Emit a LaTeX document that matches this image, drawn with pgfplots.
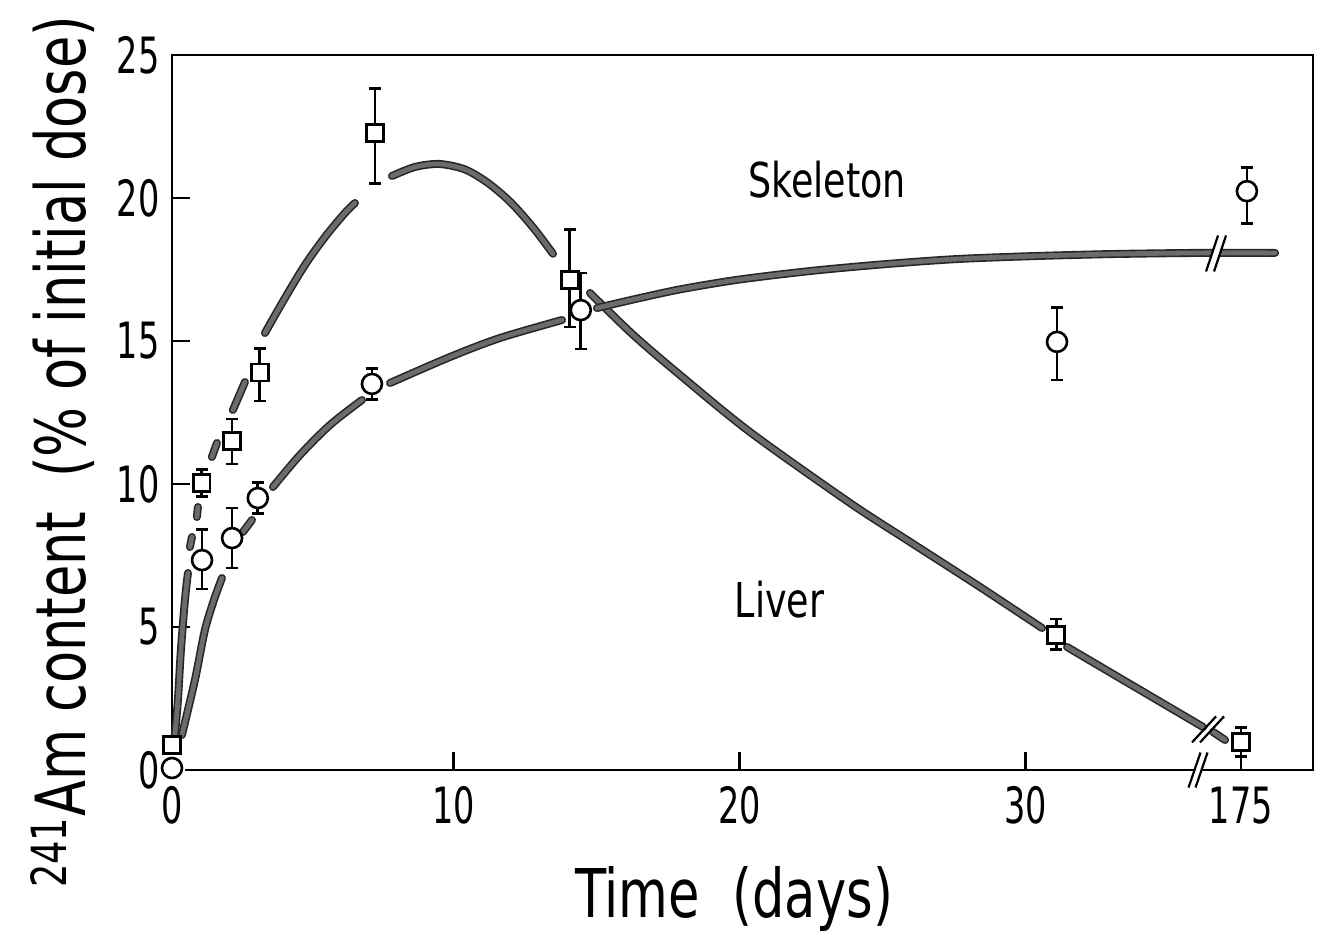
\documentclass[border=0pt]{standalone}
\usepackage{fontspec}
\setmainfont{DejaVu Sans}[FakeStretch=0.76]
\newfontfamily\tickfont{DejaVu Sans}[FakeStretch=0.67]
\usepackage{pgfplots}
\pgfplotsset{compat=1.18}

\pgfplotsset{
  curve/.style={no markers, smooth, draw=black!85, double=black!58,
    double distance=2.4pt, line width=0.8pt, line cap=round},
  bars/.style={error bars/.cd, y dir=both, y explicit,
    error bar style={line width=1.4pt, black},
    error mark options={rotate=90, line width=1.4pt, mark size=3pt, black}},
}

\begin{document}
\begin{tikzpicture}
\begin{axis}[
  at={(0,0)}, anchor=south west,
  scale only axis, width=570.5pt, height=357.5pt,
  xmin=0.16, xmax=40.05, ymin=0, ymax=25,
  axis line style={line width=1.2pt, black},
  tick align=inside, major tick length=9pt,
  tick style={line width=1.1pt, black},
  xtick pos=left, ytick pos=left,
  xtick={0.16,10,20,30,37.53}, xticklabels={0,10,20,30,175},
  ytick={0,5,10,15,20,25}, yticklabels={0\hspace{3.5pt},5,10,15,20,25},
  x tick label style={anchor=base, yshift=-26.5pt, inner sep=0pt},
  y tick label style={anchor=east, xshift=-6pt, inner sep=0pt},
  ticklabel style={font=\tickfont\fontsize{25}{30}\selectfont},
  /pgf/number format/assume math mode=true,
  clip=false,
]

% Liver: fitted curve, drawn in pen strokes
\addplot[curve] coordinates {(0.262,1.224)(0.367,2.448)(0.472,4.196)(0.612,5.944)(0.717,6.888)};
\addplot[curve] coordinates {(0.787,7.797)(0.857,8.147)};
\addplot[curve] coordinates {(1.031,8.846)(1.066,9.196)};
\addplot[curve] coordinates {(1.556,10.944)(1.731,11.434)};
\addplot[curve] coordinates {(2.290,12.587)(2.710,13.566)};
\addplot[curve] coordinates {(3.409,15.280)(4.108,16.503)(4.808,17.657)(5.507,18.636)(6.206,19.476)(6.556,19.825)};
\addplot[curve] coordinates {(7.850,20.769)(8.650,21.084)(9.500,21.190)(10.400,21.000)(11.200,20.530)(12.000,19.850)(12.800,18.950)(13.479,18.050)};
\addplot[curve] coordinates {(14.773,16.678)(16.300,15.200)(17.920,13.811)(20.367,11.818)(23.864,9.336)(26.000,7.950)(28.409,6.399)(30.577,4.965)};
\addplot[curve] coordinates {(31.451,4.301)(36.206,1.503)};
\addplot[curve] coordinates {(36.556,1.329)(36.976,1.049)};

% Skeleton: fitted curve
\addplot[curve] coordinates {(0.507,1.224)(0.962,3.147)(1.311,4.895)(1.626,5.944)(1.906,6.713)};
\addplot[curve] coordinates {(2.640,8.322)(2.955,8.741)};
\addplot[curve] coordinates {(3.689,9.895)(4.633,11.014)(5.682,12.063)(6.801,12.937)};
\addplot[curve] coordinates {(7.780,13.531)(9.878,14.441)(11.626,15.105)(13.794,15.734)};
\addplot[curve] coordinates {(15.017,16.154)(16.500,16.500)(18.000,16.820)(20.000,17.150)(22.500,17.450)(25.000,17.680)(27.500,17.860)(30.000,17.960)(33.000,18.040)(36.100,18.080)(38.724,18.080)};

% breaks on the curves and on the time axis
\begin{scope}[shift={(axis cs:36.66,18.06)}]
  \fill[white] (-5pt,-9pt)--(1pt,9pt)--(5pt,9pt)--(-1pt,-9pt)--cycle;
  \draw[line width=1.1pt] (-5pt,-9pt)--(1pt,9pt) (-1pt,-9pt)--(5pt,9pt);
\end{scope}
\begin{scope}[shift={(axis cs:36.38,1.42)}]
  \draw[line width=1.1pt] (-8pt,-6.5pt)--(4pt,6.5pt) (-4pt,-6.5pt)--(8pt,6.5pt);
\end{scope}
\begin{scope}[shift={(axis cs:36.03,0)}]
  \fill[white] (-4.75pt,-8.75pt)--(1.25pt,8.75pt)--(4.75pt,8.75pt)--(-1.25pt,-8.75pt)--cycle;
  \draw[line width=1.1pt] (-4.75pt,-8.75pt)--(1.25pt,8.75pt) (-1.25pt,-8.75pt)--(4.75pt,8.75pt);
\end{scope}

% clear space round the markers at day 0
\addplot[only marks, mark=*, mark size=6.5pt, white] coordinates {(0.16,0.07)};
\addplot[only marks, mark=square*, mark size=4.6pt, white] coordinates {(0.16,0.87)};

% Liver measurements
\addplot[only marks, mark=square*, mark size=4.2pt,
  mark options={fill=white, draw=black, line width=1.3pt}, bars]
  coordinates {
  (0.16,0.87) += (0,0) -= (0,0)
  (1.20,10.03) += (0,0.47) -= (0,0.47)
  (2.26,11.50) += (0,0.77) -= (0,0.80)
  (3.23,13.90) += (0,0.84) -= (0,1.00)
  (7.26,22.27) += (0,1.57) -= (0,1.75)
  (14.07,17.13) += (0,1.78) -= (0,1.64)
  (31.07,4.72) += (0,0.56) -= (0,0.52)
  (37.53,0.98) += (0,0.50) -= (0,0.50)
  };

% Skeleton measurements
\addplot[only marks, mark=*, mark size=5pt,
  mark options={fill=white, draw=black, line width=1.3pt}, bars]
  coordinates {
  (0.16,0.07) += (0,0) -= (0,0)
  (1.21,7.34) += (0,1.08) -= (0,1.01)
  (2.26,8.11) += (0,1.05) -= (0,1.05)
  (3.16,9.51) += (0,0.55) -= (0,0.55)
  (7.15,13.50) += (0,0.55) -= (0,0.55)
  (14.45,16.08) += (0,1.30) -= (0,1.36)
  (31.10,14.97) += (0,1.19) -= (0,1.33)
  (37.74,20.24) += (0,0.84) -= (0,1.12)
  };

\node[anchor=base, font=\fontsize{24}{28}\selectfont] at (axis cs:23.06,20.03) {Skeleton};
\node[anchor=base, font=\fontsize{24}{28}\selectfont] at (axis cs:21.40,5.35) {Liver};
\end{axis}

\node[anchor=base, font=\fontsize{33.6}{40}\selectfont] at (281pt,-73.5pt) {Time\ \ (days)};
\node[anchor=base, rotate=90, font=\fontsize{34.6}{41}\selectfont] at (-43.5pt,159pt)
  {\textsuperscript{241}Am content\ \ (\% of initial dose)};

\pgfresetboundingbox
\path[use as bounding box] (-86pt,-82pt) rectangle (574pt,385pt);
\end{tikzpicture}
\end{document}
